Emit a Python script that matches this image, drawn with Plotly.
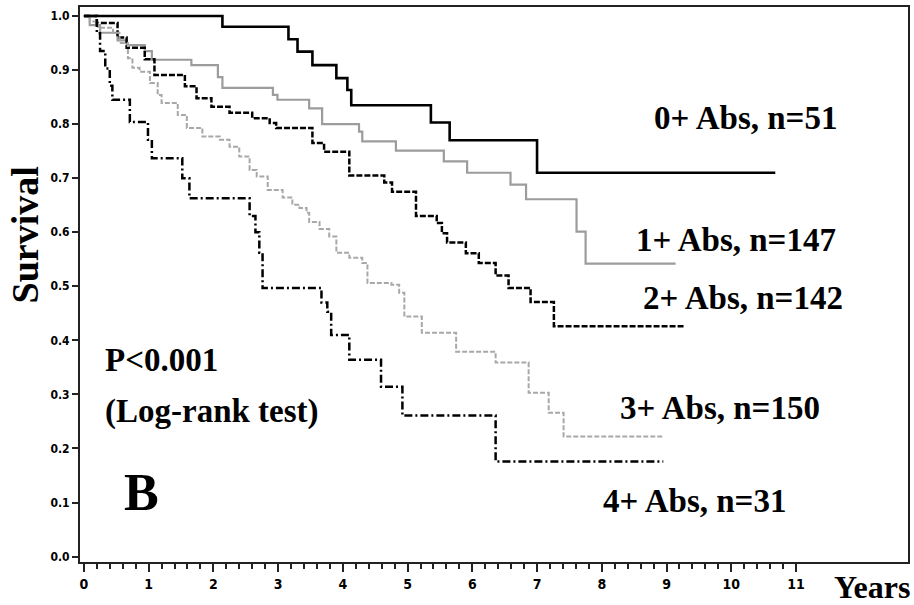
import plotly.graph_objects as go

# ---- data ----
t0 = [0, 2.14, 3.16, 3.30, 3.53, 3.90, 4.07, 4.13, 5.36, 5.65, 7.00, 10.68]
s0 = [1.0, 0.980, 0.957, 0.934, 0.909, 0.885, 0.863, 0.835, 0.803, 0.770, 0.710, 0.710]

t1 = [0, 0.09, 0.25, 0.52, 0.66, 0.94, 1.05, 1.66, 2.07, 2.14, 2.92, 2.99, 3.48, 3.68,
      4.25, 4.30, 4.82, 5.56, 5.92, 6.59, 6.83, 7.61, 7.75, 9.14]
s1 = [1.0, 0.983, 0.969, 0.955, 0.946, 0.935, 0.919, 0.909, 0.887, 0.867, 0.854, 0.845, 0.829, 0.800,
      0.786, 0.768, 0.751, 0.731, 0.710, 0.688, 0.661, 0.601, 0.542, 0.542]

t2 = [0, 0.20, 0.52, 0.66, 0.94, 1.09, 1.56, 1.74, 1.97, 2.25, 2.60, 2.87, 2.97, 3.53, 3.71,
      4.10, 4.64, 4.76, 5.13, 5.45, 5.53, 5.61, 5.90, 6.10, 6.36, 6.56, 6.90, 7.26, 9.29]
s2 = [1.0, 0.987, 0.960, 0.941, 0.920, 0.891, 0.870, 0.848, 0.832, 0.821, 0.811, 0.802, 0.793, 0.765, 0.749,
      0.705, 0.692, 0.675, 0.630, 0.617, 0.598, 0.581, 0.561, 0.543, 0.520, 0.497, 0.471, 0.426, 0.426]

t3 = [0, 0.09, 0.22, 0.45, 0.55, 0.68, 0.75, 0.86, 1.02, 1.14, 1.20, 1.45, 1.59, 1.83, 2.10, 2.25,
      2.40, 2.56, 2.67, 2.84, 3.07, 3.22, 3.33, 3.44, 3.48, 3.64, 3.79, 3.90, 4.10, 4.30, 4.38,
      4.75, 4.87, 4.95, 5.22, 5.75, 6.36, 6.87, 7.18, 7.41, 8.95]
s3 = [1.0, 0.990, 0.978, 0.969, 0.950, 0.922, 0.904, 0.897, 0.876, 0.854, 0.839, 0.817, 0.793, 0.777, 0.771, 0.758,
      0.740, 0.715, 0.703, 0.678, 0.664, 0.651, 0.645, 0.636, 0.619, 0.606, 0.592, 0.562, 0.553, 0.543, 0.506,
      0.503, 0.488, 0.444, 0.414, 0.379, 0.359, 0.303, 0.266, 0.222, 0.222]

t4 = [0, 0.20, 0.25, 0.33, 0.40, 0.44, 0.71, 0.99, 1.05, 1.52, 1.63, 2.56, 2.65, 2.71, 2.76,
      3.67, 3.76, 3.82, 4.10, 4.59, 4.92, 6.36, 8.95]
s4 = [1.0, 0.968, 0.935, 0.903, 0.871, 0.845, 0.804, 0.771, 0.737, 0.700, 0.663, 0.630, 0.600, 0.562, 0.497,
      0.470, 0.453, 0.410, 0.364, 0.314, 0.261, 0.176, 0.176]

group_labels = ["0+ Abs, n=51", "1+ Abs, n=147", "2+ Abs, n=142", "3+ Abs, n=150", "4+ Abs, n=31"]
label_x = [10.22, 10.08, 10.18, 9.83, 9.43]
label_y = [0.811, 0.586, 0.479, 0.274, 0.102]

x_ticks = list(range(0, 12))
x_minor = [i / 5 for i in range(0, 56) if i % 5 != 0]
y_ticks = [i / 10 for i in range(0, 11)]

# ---- figure ----
series = [
    (t0, s0, dict(color="#000000", width=2.6, dash="solid")),
    (t1, s1, dict(color="#9c9c9c", width=2.2, dash="solid")),
    (t2, s2, dict(color="#000000", width=2.5, dash="6px,2px")),
    (t3, s3, dict(color="#a8a8a8", width=2.0, dash="5px,2px")),
    (t4, s4, dict(color="#000000", width=2.5, dash="8px,3px,2px,3px")),
]

fig = go.Figure()
for (t, s, ln), name in zip(series, group_labels):
    fig.add_trace(go.Scatter(x=t, y=s, mode="lines", line=dict(shape="hv", **ln),
                             name=name, showlegend=False, hoverinfo="skip"))

serif = "Liberation Serif, Times New Roman, serif"
narrow = "Liberation Sans Narrow, DejaVu Sans Condensed, Arial Narrow, sans-serif"

for txt, lx, ly in zip(group_labels, label_x, label_y):
    fig.add_annotation(x=lx, y=ly, xref="x", yref="y", text=txt, showarrow=False,
                       xanchor="center", yanchor="middle",
                       font=dict(family=serif, size=33, color="#000", weight="bold"))

fig.add_annotation(x=0.29, y=0.364, xref="x", yref="y", text="P<0.001", showarrow=False,
                   xanchor="left", yanchor="middle",
                   font=dict(family=serif, size=33, color="#000", weight="bold"))
fig.add_annotation(x=0.29, y=0.268, xref="x", yref="y", text="(Log-rank test)", showarrow=False,
                   xanchor="left", yanchor="middle",
                   font=dict(family=serif, size=33, color="#000", weight="bold"))
fig.add_annotation(x=0.89, y=0.118, xref="x", yref="y", text="B", showarrow=False,
                   xanchor="center", yanchor="middle",
                   font=dict(family=serif, size=52, color="#000", weight="bold"))
fig.add_annotation(x=-0.066, y=0.589, xref="paper", yref="paper", text="Survival", showarrow=False,
                   textangle=-90, xanchor="center", yanchor="middle",
                   font=dict(family=serif, size=38, color="#000", weight="bold"))
fig.add_annotation(x=1.004, y=-0.045, xref="paper", yref="paper", text="Years", showarrow=False,
                   xanchor="right", yanchor="middle", borderpad=0,
                   font=dict(family=serif, size=32, color="#000", weight="bold"))

fig.update_layout(
    width=914, height=605,
    margin=dict(l=80, r=4, t=7, b=43),
    paper_bgcolor="white", plot_bgcolor="white",
    showlegend=False,
)
fig.update_xaxes(
    range=[-0.06, 12.73], tickmode="array", tickvals=x_ticks, ticktext=[str(v) for v in x_ticks],
    ticks="outside", ticklen=8, tickwidth=2, tickcolor="#222",
    minor=dict(tickmode="array", tickvals=x_minor, ticks="outside", ticklen=5, tickwidth=1.5,
               tickcolor="#222", showgrid=False),
    showline=True, linewidth=2, linecolor="#222", mirror=True,
    showgrid=False, zeroline=False,
    tickfont=dict(family=narrow, size=14, color="#000", weight="bold"),
)
fig.update_yaxes(
    range=[-0.01, 1.0166], tickmode="array", tickvals=y_ticks,
    ticktext=[f"{v:.1f}" for v in y_ticks],
    ticks="outside", ticklen=6, tickwidth=1.5, tickcolor="#222",
    showline=True, linewidth=2, linecolor="#222", mirror=True,
    showgrid=False, zeroline=False,
    tickfont=dict(family=narrow, size=12, color="#000", weight="bold"),
)

fig.write_html("out.html")
